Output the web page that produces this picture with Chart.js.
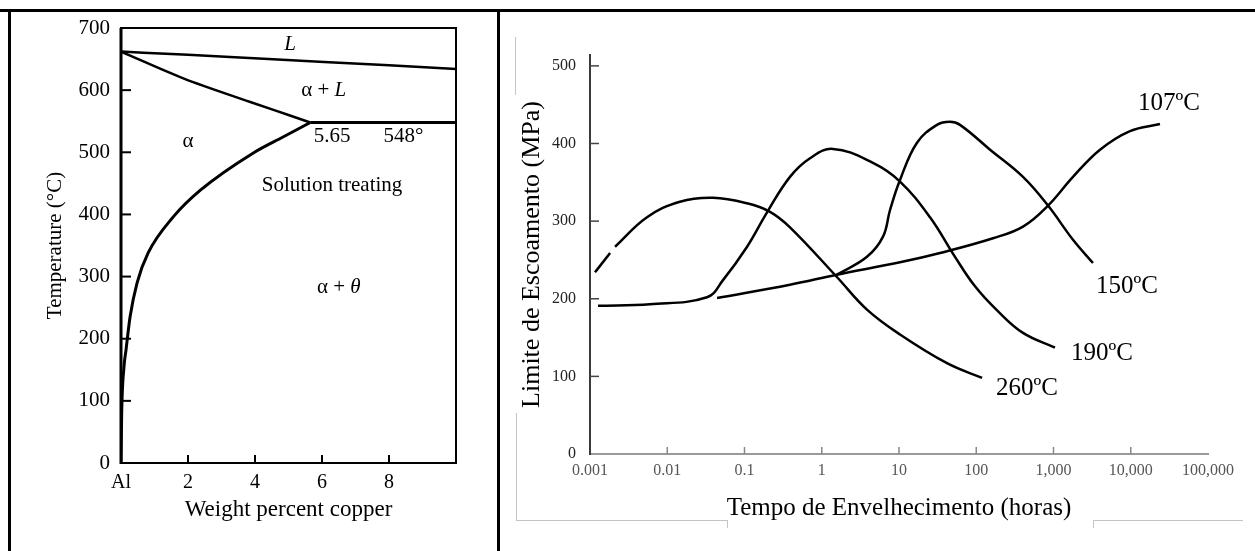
<!DOCTYPE html>
<html>
<head>
<meta charset="utf-8">
<script src="https://cdn.jsdelivr.net/npm/chart.js@4.4.1/dist/chart.umd.min.js"></script>
<style>
  body { margin: 0; background: #fff; }
  #wrap { position: relative; width: 1255px; height: 551px; overflow: hidden; }
  canvas { position: absolute; top: 0; }
  .ln { position: absolute; background: #000; }
  .gr { position: absolute; background: #c4c4c4; }
</style>
</head>
<body>
<div id="wrap">
  <canvas id="phase" width="497" height="551" style="left:0"></canvas>
  <canvas id="aging" width="755" height="551" style="left:500px"></canvas>
  <div class="ln" style="left:0;top:9px;width:1255px;height:3px"></div>
  <div class="ln" style="left:8px;top:9px;width:3px;height:542px"></div>
  <div class="ln" style="left:497px;top:9px;width:3px;height:542px"></div>
  <div class="gr" style="left:515px;top:37px;width:1px;height:58px"></div>
  <div class="gr" style="left:516px;top:413px;width:1px;height:107px"></div>
  <div class="gr" style="left:516px;top:520px;width:211px;height:1px"></div>
  <div class="gr" style="left:727px;top:520px;width:1px;height:8px"></div>
  <div class="gr" style="left:1093px;top:520px;width:150px;height:1px"></div>
  <div class="gr" style="left:1093px;top:520px;width:1px;height:8px"></div>
</div>
<script>
const serif = "'Liberation Serif', 'Times New Roman', serif";

// ---- left: Al-Cu phase diagram ----
const liquidus = [{x: 0, y: 662}, {x: 2, y: 657}, {x: 4.4, y: 650}, {x: 8, y: 640}, {x: 10, y: 634}];
const solidus = [{x: 0, y: 662}, {x: 1.86, y: 619}, {x: 3.86, y: 581}, {x: 5.0, y: 560}, {x: 5.65, y: 548}];
const eutectic = [{x: 5.65, y: 548}, {x: 10, y: 548}];
const solvus = [{x: 0, y: 0}, {x: 0.02, y: 80}, {x: 0.09, y: 155}, {x: 0.15, y: 182}, {x: 0.27, y: 235},
  {x: 0.48, y: 290}, {x: 0.81, y: 338}, {x: 1.56, y: 396}, {x: 2.37, y: 439}, {x: 3.95, y: 499},
  {x: 4.85, y: 525}, {x: 5.65, y: 548}];
const phaseXLabels = ['Al', '2', '4', '6', '8', ''];
const phaseLabels = [
  {parts: [['L', 'italic']], x: 5.05, y: 673},
  {parts: [['α + ', ''], ['L', 'italic']], x: 6.05, y: 599},
  {parts: [['α', '']], x: 2.0, y: 517},
  {parts: [['5.65', '']], x: 6.3, y: 525},
  {parts: [['548°', '']], x: 8.43, y: 525},
  {parts: [['Solution treating', '']], x: 6.3, y: 447},
  {parts: [['α + ', ''], ['θ', 'italic']], x: 6.5, y: 283}
];

// ---- right: aging curves ----
const t260a = [0.00116, 0.00182];
const y260a = [234, 259];
const t260 = [0.00211, 0.00547, 0.0146, 0.0391, 0.108, 0.214, 0.388, 1.57, 3.85, 10.3, 41.8, 119];
const y260 = [267, 305, 325, 330, 323, 312, 292, 228, 186, 154, 117, 98];
const t190 = [0.00127, 0.00598, 0.0327, 0.0527, 0.108, 0.195, 0.388, 0.705, 1.40, 4.60, 10.3, 25.2, 53.1, 96.4, 186, 403, 1045];
const y190 = [191, 193, 202, 224, 267, 311, 357, 381, 393, 375, 351, 305, 254, 216, 185, 156, 137];
const t150 = [1.57, 3.85, 6.21, 7.64, 10.3, 17.1, 31.0, 45.7, 61.6, 151, 403, 849, 1787, 3243];
const y150 = [231, 254, 280, 314, 353, 401, 424, 428, 424, 392, 357, 320, 276, 246];
const t107 = [0.0441, 0.388, 1.57, 10.3, 34, 165, 403, 849, 1787, 4000, 9780, 23900];
const y107 = [201, 218, 231, 247, 259, 278, 293, 320, 357, 392, 416, 425];
const strengthTicks = [0, 100, 200, 300, 400, 500];
const timeTicks = [0.001, 0.01, 0.1, 1, 10, 100, 1000, 10000, 100000];
const timeTickLabels = ['0.001', '0.01', '0.1', '1', '10', '100', '1,000', '10,000', '100,000'];
const curveLabels = [
  {parts: [['107ºC', '']], x: 31300, y: 452},
  {parts: [['150ºC', '']], x: 8950, y: 216},
  {parts: [['190ºC', '']], x: 4250, y: 130},
  {parts: [['260ºC', '']], x: 454, y: 85}
];

const pts = (xs, ys) => xs.map((v, i) => ({x: v, y: ys[i]}));

// text placed at data coordinates
const textLabels = {
  id: 'textLabels',
  afterDatasetsDraw(chart, args, opts) {
    const {ctx, scales: {x, y}} = chart;
    const f = st => `${st} ${opts.size}px ${serif}`;
    ctx.save();
    ctx.fillStyle = '#000';
    ctx.textBaseline = 'middle';
    ctx.textAlign = 'left';
    opts.items.forEach(it => {
      let w = 0;
      it.parts.forEach(p => { ctx.font = f(p[1]); w += ctx.measureText(p[0]).width; });
      let px = x.getPixelForValue(it.x) - w / 2;
      const py = y.getPixelForValue(it.y);
      it.parts.forEach(p => {
        ctx.font = f(p[1]);
        ctx.fillText(p[0], px, py);
        px += ctx.measureText(p[0]).width;
      });
    });
    ctx.restore();
  }
};

// tick marks pointing into the plot, plus optional frame
const insideTicks = {
  id: 'insideTicks',
  afterDatasetsDraw(chart, args, opts) {
    const {ctx, chartArea: a, scales: {x, y}} = chart;
    ctx.save();
    if (opts.frame) {
      ctx.strokeStyle = '#000';
      ctx.lineWidth = 2;
      ctx.strokeRect(a.left, a.top, a.right - a.left, a.bottom - a.top);
      ctx.lineWidth = 3;
      ctx.beginPath(); ctx.moveTo(a.left, a.top); ctx.lineTo(a.left, a.bottom + 1); ctx.stroke();
    }
    ctx.lineWidth = opts.width;
    ctx.strokeStyle = opts.xColor;
    opts.xTicks.forEach(v => {
      const px = x.getPixelForValue(v);
      ctx.beginPath(); ctx.moveTo(px, a.bottom); ctx.lineTo(px, a.bottom - opts.xLen); ctx.stroke();
    });
    ctx.strokeStyle = opts.yColor;
    opts.yTicks.forEach(v => {
      const py = y.getPixelForValue(v);
      ctx.beginPath(); ctx.moveTo(a.left, py); ctx.lineTo(a.left + opts.yLen, py); ctx.stroke();
    });
    ctx.restore();
  }
};

const black = (data, extra) => Object.assign({
  data: data, borderColor: '#000', borderWidth: 2.5, pointRadius: 0,
  cubicInterpolationMode: 'monotone', fill: false
}, extra || {});
const smooth = {cubicInterpolationMode: 'default', tension: 0.4};

new Chart(document.getElementById('phase'), {
  type: 'line',
  data: {
    datasets: [black(liquidus), black(solidus), black(eutectic, {borderWidth: 3}), black(solvus, {borderWidth: 3})]
  },
  options: {
    responsive: false, animation: false, devicePixelRatio: 1,
    layout: {padding: {left: 0, right: 41, top: 28, bottom: 0}},
    plugins: {
      legend: {display: false}, tooltip: {enabled: false},
      textLabels: {size: 21, items: phaseLabels},
      insideTicks: {frame: true, width: 2, xColor: '#000', yColor: '#000', xLen: 8, yLen: 10,
        xTicks: [2, 4, 6, 8], yTicks: [100, 200, 300, 400, 500, 600]}
    },
    scales: {
      x: {
        type: 'linear', min: 0, max: 10,
        afterFit: s => { s.height = 88; },
        grid: {display: false}, border: {display: false},
        ticks: {stepSize: 2, padding: 0, color: '#000', font: {family: serif, size: 20},
          maxRotation: 0, autoSkip: false, callback: (v, i) => phaseXLabels[i]},
        title: {display: true, text: 'Weight percent copper', color: '#000',
          font: {family: serif, size: 23}, padding: {top: 0, bottom: 27}}
      },
      y: {
        min: 0, max: 700,
        afterFit: s => { s.width = 121; },
        grid: {display: false}, border: {display: false},
        ticks: {stepSize: 100, padding: 3, color: '#000', font: {family: serif, size: 21}},
        title: {display: true, text: 'Temperature (°C)', color: '#000',
          font: {family: serif, size: 21}, padding: {top: 43, bottom: 0}}
      }
    }
  },
  plugins: [textLabels, insideTicks]
});

new Chart(document.getElementById('aging'), {
  type: 'line',
  data: {
    datasets: [
      black(pts(t260a, y260a)), black(pts(t260, y260), smooth),
      black(pts(t190, y190), smooth), black(pts(t150, y150), smooth), black(pts(t107, y107), smooth)
    ]
  },
  options: {
    responsive: false, animation: false, devicePixelRatio: 1,
    layout: {padding: {left: 0, right: 47, top: 55, bottom: 0}},
    plugins: {
      legend: {display: false}, tooltip: {enabled: false},
      textLabels: {size: 25, items: curveLabels},
      insideTicks: {frame: false, width: 1.5, xColor: '#888', yColor: '#444', xLen: 7, yLen: 9,
        xTicks: [0.01, 0.1, 1, 10, 100, 1000, 10000], yTicks: [100, 200, 300, 400, 500]}
    },
    scales: {
      x: {
        type: 'logarithmic', min: 0.001, max: 100000,
        afterFit: s => { s.height = 97; },
        afterBuildTicks: s => { s.ticks = timeTicks.map(v => ({value: v})); },
        grid: {display: false}, border: {display: true, color: '#9a9a9a', width: 2},
        ticks: {padding: -1, color: '#555', font: {family: serif, size: 16},
          maxRotation: 0, autoSkip: false, callback: (v, i) => timeTickLabels[i]},
        title: {display: true, text: 'Tempo de Envelhecimento (horas)', color: '#000',
          font: {family: serif, size: 25}, padding: {top: 0, bottom: 28}}
      },
      y: {
        min: 0, max: 514,
        afterFit: s => { s.width = 90; },
        afterBuildTicks: s => { s.ticks = strengthTicks.map(v => ({value: v})); },
        grid: {display: false}, border: {display: true, color: '#3a3a3a', width: 2},
        ticks: {padding: 6, color: '#222', font: {family: serif, size: 16}},
        title: {display: true, text: 'Limite de Escoamento (MPa)', color: '#000',
          font: {family: serif, size: 26}, padding: {top: 17, bottom: 0}}
      }
    }
  },
  plugins: [textLabels, insideTicks]
});
</script>
</body>
</html>
